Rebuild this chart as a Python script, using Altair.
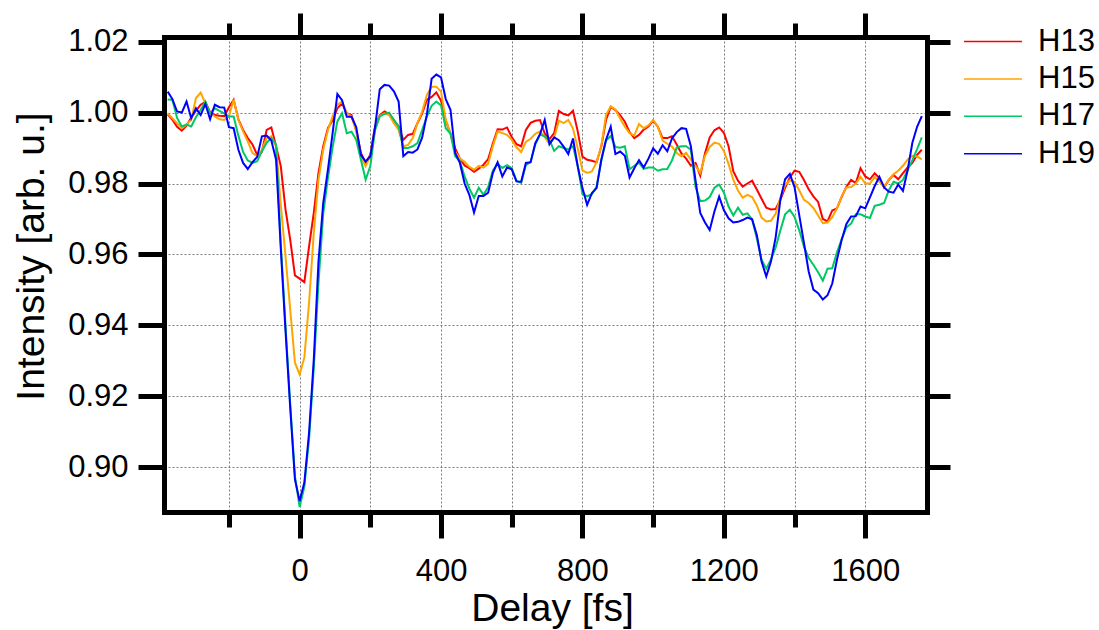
import altair as alt
import pandas as pd

# ---------------- data ----------------
DELAY_FS = [
    -373.3, -360.0, -346.7, -333.3, -320.0, -306.7, -293.3, -280.0, -266.7, -253.3,
    -240.0, -226.7, -213.3, -200.0, -186.7, -173.3, -160.0, -146.7, -133.3, -120.0,
    -106.7, -93.3, -80.0, -66.7, -53.3, -40.0, -26.7, -13.3, 0.0, 13.3,
    26.7, 40.0, 53.3, 66.7, 80.0, 93.3, 106.7, 120.0, 133.3, 146.7,
    160.0, 173.3, 186.7, 200.0, 213.3, 226.7, 240.0, 253.3, 266.7, 280.0,
    293.3, 306.7, 320.0, 333.3, 346.7, 360.0, 373.3, 386.7, 400.0, 413.3,
    426.7, 440.0, 453.3, 466.7, 480.0, 493.3, 506.7, 520.0, 533.3, 546.7,
    560.0, 573.3, 586.7, 600.0, 613.3, 626.7, 640.0, 653.3, 666.7, 680.0,
    693.3, 706.7, 720.0, 733.3, 746.7, 760.0, 773.3, 786.7, 800.0, 813.3,
    826.7, 840.0, 853.3, 866.7, 880.0, 893.3, 906.7, 920.0, 933.3, 946.7,
    960.0, 973.3, 986.7, 1000.0, 1013.3, 1026.7, 1040.0, 1053.3, 1066.7, 1080.0,
    1093.3, 1106.7, 1120.0, 1133.3, 1146.7, 1160.0, 1173.3, 1186.7, 1200.0, 1213.3,
    1226.7, 1240.0, 1253.3, 1266.7, 1280.0, 1293.3, 1306.7, 1320.0, 1333.3, 1346.7,
    1360.0, 1373.3, 1386.7, 1400.0, 1413.3, 1426.7, 1440.0, 1453.3, 1466.7, 1480.0,
    1493.3, 1506.7, 1520.0, 1533.3, 1546.7, 1560.0, 1573.3, 1586.7, 1600.0, 1613.3,
    1626.7, 1640.0, 1653.3, 1666.7, 1680.0, 1693.3, 1706.7, 1720.0, 1733.3, 1746.7,
    1760.0,
]

H13 = [
    0.9995, 0.9980, 0.9960, 0.9949, 0.9963, 0.9986, 1.0005, 1.0022, 1.0030, 1.0001,
    0.9993, 0.9991, 0.9990, 1.0015, 1.0036, 0.9981, 0.9951, 0.9928, 0.9910, 0.9880,
    0.9890, 0.9951, 0.9958, 0.9905, 0.9849, 0.9727, 0.9642, 0.9541, 0.9532, 0.9522,
    0.9623, 0.9717, 0.9830, 0.9905, 0.9956, 0.9979, 1.0012, 1.0026, 0.9998, 0.9993,
    0.9951, 0.9886, 0.9858, 0.9881, 0.9961, 0.9993, 1.0003, 0.9996, 0.9979, 0.9961,
    0.9923, 0.9937, 0.9940, 0.9970, 0.9998, 1.0036, 1.0044, 1.0057, 1.0033, 0.9977,
    0.9941, 0.9899, 0.9870, 0.9851, 0.9843, 0.9833, 0.9842, 0.9853, 0.9869, 0.9913,
    0.9953, 0.9952, 0.9958, 0.9931, 0.9911, 0.9905, 0.9951, 0.9971, 0.9977, 0.9979,
    0.9941, 0.9925, 0.9942, 1.0005, 0.9996, 0.9992, 1.0005, 0.9947, 0.9876, 0.9867,
    0.9864, 0.9860, 0.9904, 0.9979, 1.0016, 1.0007, 0.9993, 0.9974, 0.9945, 0.9928,
    0.9937, 0.9952, 0.9961, 0.9977, 0.9960, 0.9928, 0.9928, 0.9933, 0.9910, 0.9885,
    0.9870, 0.9850, 0.9858, 0.9822, 0.9885, 0.9930, 0.9950, 0.9958, 0.9943, 0.9905,
    0.9835, 0.9808, 0.9791, 0.9800, 0.9808, 0.9783, 0.9757, 0.9732, 0.9727, 0.9728,
    0.9755, 0.9788, 0.9817, 0.9836, 0.9833, 0.9810, 0.9784, 0.9764, 0.9748, 0.9700,
    0.9693, 0.9724, 0.9730, 0.9762, 0.9791, 0.9810, 0.9801, 0.9843, 0.9820, 0.9812,
    0.9829, 0.9815, 0.9789, 0.9810, 0.9824, 0.9812, 0.9829, 0.9845, 0.9858, 0.9881,
    0.9895,
]

H15 = [
    0.9998, 0.9984, 0.9970, 0.9956, 0.9966, 0.9979, 1.0041, 1.0056, 1.0026, 0.9998,
    0.9989, 0.9981, 0.9979, 0.9989, 1.0037, 0.9979, 0.9947, 0.9919, 0.9886, 0.9877,
    0.9895, 0.9928, 0.9933, 0.9905, 0.9740, 0.9595, 0.9445, 0.9295, 0.9262, 0.9309,
    0.9464, 0.9661, 0.9811, 0.9895, 0.9951, 0.9989, 1.0022, 1.0031, 0.9998, 0.9989,
    0.9947, 0.9877, 0.9849, 0.9877, 0.9951, 0.9991, 0.9998, 0.9993, 0.9970, 0.9951,
    0.9905, 0.9909, 0.9928, 0.9970, 1.0003, 1.0050, 1.0073, 1.0073, 1.0059, 0.9979,
    0.9941, 0.9889, 0.9870, 0.9861, 0.9847, 0.9839, 0.9850, 0.9845, 0.9856, 0.9906,
    0.9947, 0.9942, 0.9937, 0.9923, 0.9902, 0.9889, 0.9917, 0.9926, 0.9940, 0.9947,
    0.9931, 0.9911, 0.9929, 0.9977, 0.9970, 0.9979, 0.9955, 0.9899, 0.9837, 0.9830,
    0.9834, 0.9860, 0.9905, 0.9993, 1.0018, 1.0008, 0.9983, 0.9960, 0.9942, 0.9935,
    0.9968, 0.9956, 0.9964, 0.9979, 0.9960, 0.9921, 0.9912, 0.9904, 0.9886, 0.9877,
    0.9886, 0.9867, 0.9849, 0.9830, 0.9878, 0.9903, 0.9915, 0.9912, 0.9892, 0.9855,
    0.9811, 0.9780, 0.9760, 0.9768, 0.9762, 0.9738, 0.9704, 0.9693, 0.9695, 0.9715,
    0.9760, 0.9796, 0.9809, 0.9805, 0.9781, 0.9754, 0.9745, 0.9731, 0.9710, 0.9688,
    0.9690, 0.9705, 0.9730, 0.9763, 0.9789, 0.9790, 0.9800, 0.9819, 0.9800, 0.9800,
    0.9818, 0.9805, 0.9791, 0.9810, 0.9826, 0.9836, 0.9850, 0.9868, 0.9878, 0.9876,
    0.9868,
]

H17 = [
    1.0037, 1.0036, 0.9985, 0.9961, 0.9966, 0.9961, 0.9987, 1.0007, 1.0031, 0.9998,
    1.0012, 1.0005, 0.9998, 0.9989, 0.9989, 0.9935, 0.9889, 0.9865, 0.9858, 0.9863,
    0.9891, 0.9915, 0.9928, 0.9910, 0.9630, 0.9400, 0.9180, 0.8975, 0.8888, 0.8945,
    0.9080, 0.9280, 0.9520, 0.9715, 0.9815, 0.9902, 0.9975, 0.9998, 0.9942, 0.9946,
    0.9923, 0.9867, 0.9811, 0.9849, 0.9951, 0.9989, 0.9996, 1.0000, 0.9979, 0.9961,
    0.9900, 0.9900, 0.9905, 0.9914, 0.9951, 0.9989, 1.0019, 1.0031, 1.0020, 0.9956,
    0.9941, 0.9877, 0.9863, 0.9820, 0.9786, 0.9760, 0.9788, 0.9768, 0.9790, 0.9837,
    0.9856, 0.9844, 0.9852, 0.9843, 0.9808, 0.9802, 0.9852, 0.9860, 0.9910, 0.9938,
    0.9933, 0.9923, 0.9892, 0.9905, 0.9900, 0.9896, 0.9905, 0.9850, 0.9770, 0.9764,
    0.9770, 0.9791, 0.9864, 0.9921, 0.9934, 0.9903, 0.9901, 0.9905, 0.9840, 0.9850,
    0.9859, 0.9841, 0.9845, 0.9845, 0.9836, 0.9840, 0.9841, 0.9865, 0.9901, 0.9905,
    0.9905, 0.9895, 0.9790, 0.9750, 0.9752, 0.9762, 0.9788, 0.9797, 0.9775, 0.9735,
    0.9710, 0.9732, 0.9712, 0.9716, 0.9699, 0.9645, 0.9585, 0.9560, 0.9586, 0.9620,
    0.9668, 0.9713, 0.9726, 0.9706, 0.9668, 0.9622, 0.9590, 0.9571, 0.9550, 0.9526,
    0.9560, 0.9561, 0.9606, 0.9643, 0.9676, 0.9687, 0.9713, 0.9713, 0.9707, 0.9703,
    0.9737, 0.9740, 0.9745, 0.9781, 0.9805, 0.9800, 0.9810, 0.9838, 0.9866, 0.9897,
    0.9930,
]

H19 = [
    1.0059, 1.0038, 1.0003, 1.0000, 1.0031, 0.9984, 1.0012, 0.9993, 1.0024, 0.9981,
    1.0022, 1.0015, 1.0014, 0.9959, 0.9956, 0.9895, 0.9858, 0.9841, 0.9860, 0.9875,
    0.9933, 0.9935, 0.9921, 0.9867, 0.9616, 0.9385, 0.9169, 0.8966, 0.8905, 0.8957,
    0.9098, 0.9304, 0.9580, 0.9745, 0.9839, 0.9942, 1.0052, 1.0035, 0.9988, 0.9988,
    0.9959, 0.9881, 0.9862, 0.9877, 0.9958, 1.0066, 1.0078, 1.0076, 1.0060, 1.0031,
    0.9877, 0.9889, 0.9887, 0.9896, 0.9930, 0.9995, 1.0095, 1.0107, 1.0099, 1.0038,
    1.0008, 0.9886, 0.9858, 0.9800, 0.9768, 0.9718, 0.9765, 0.9765, 0.9774, 0.9830,
    0.9860, 0.9820, 0.9845, 0.9840, 0.9806, 0.9805, 0.9858, 0.9860, 0.9914, 0.9939,
    0.9979, 0.9911, 0.9930, 0.9922, 0.9904, 0.9883, 0.9927, 0.9848, 0.9787, 0.9740,
    0.9773, 0.9787, 0.9867, 0.9923, 0.9960, 0.9883, 0.9890, 0.9878, 0.9817, 0.9843,
    0.9866, 0.9845, 0.9870, 0.9899, 0.9884, 0.9908, 0.9891, 0.9927, 0.9945, 0.9956,
    0.9954, 0.9905, 0.9808, 0.9717, 0.9690, 0.9669, 0.9721, 0.9763, 0.9725, 0.9702,
    0.9690, 0.9692, 0.9697, 0.9704, 0.9699, 0.9655, 0.9580, 0.9538, 0.9580, 0.9649,
    0.9755, 0.9812, 0.9827, 0.9790, 0.9711, 0.9632, 0.9552, 0.9501, 0.9491, 0.9473,
    0.9485, 0.9518, 0.9585, 0.9641, 0.9686, 0.9707, 0.9708, 0.9735, 0.9730, 0.9761,
    0.9793, 0.9819, 0.9789, 0.9777, 0.9774, 0.9797, 0.9779, 0.9838, 0.9915, 0.9960,
    0.9990,
]

SERIES = ["H13", "H15", "H17", "H19"]
COLORS = ["#ff0000", "#ffa500", "#00c864", "#0000ff"]

X_MAJOR = [0, 400, 800, 1200, 1600]
X_MINOR = [-200, 200, 600, 1000, 1400]
X_GRID = [-200, 0, 200, 400, 600, 800, 1000, 1200, 1400, 1600]
Y_TICKS = [0.90, 0.92, 0.94, 0.96, 0.98, 1.00, 1.02]
Y_GRID = [0.90, 0.92, 0.94, 0.96, 0.98, 1.00]

X_DOMAIN = [-383.7, 1774.7]
Y_DOMAIN = [0.8874, 1.0213]

for s in (H13, H15, H17, H19):
    assert len(s) == len(DELAY_FS), (len(s), len(DELAY_FS))

frames = []
for name, vals in zip(SERIES, [H13, H15, H17, H19]):
    frames.append(pd.DataFrame({"delay": DELAY_FS, "intensity": vals, "harmonic": name}))
df = pd.concat(frames, ignore_index=True)

# ---------------- styling ----------------
FONT = "Liberation Sans"
LABEL_SIZE = 31
TITLE_SIZE = 39
x_scale = alt.Scale(domain=X_DOMAIN, nice=False, zero=False)
y_scale = alt.Scale(domain=Y_DOMAIN, nice=False, zero=False)

frame_axis = dict(tickColor="black", tickWidth=5, domainColor="black",
                  domainWidth=5, domainCap="square", grid=False, zindex=1)
grid_axis = dict(grid=True, gridColor="#7a7a7a", gridDash=[2, 2], gridWidth=1,
                 domain=False, ticks=False, labels=False, title=None, zindex=0)

base = alt.Chart(df)

grid_layer = base.mark_line(strokeOpacity=0).encode(
    x=alt.X("delay:Q", scale=x_scale,
            axis=alt.Axis(orient="bottom", values=X_GRID, **grid_axis)),
    y=alt.Y("intensity:Q", scale=y_scale,
            axis=alt.Axis(orient="left", values=Y_GRID, **grid_axis)),
    detail="harmonic:N",
)

lines = base.mark_line(strokeWidth=2).encode(
    x=alt.X("delay:Q", scale=x_scale,
            axis=alt.Axis(orient="bottom", values=X_MAJOR, format="d", tickSize=26,
                          labelFont=FONT, labelFontSize=LABEL_SIZE, labelColor="black",
                          labelPadding=18, labelFlush=False, labelOverlap=False,
                          title="Delay [fs]", titleFont=FONT, titleFontSize=TITLE_SIZE,
                          titleFontWeight="normal", titleColor="black",
                          titleX=388, titleY=77, titleBaseline="top",
                          titleAlign="center", **frame_axis)),
    y=alt.Y("intensity:Q", scale=y_scale,
            axis=alt.Axis(orient="left", values=Y_TICKS, format=".2f", tickSize=26,
                          labelFont=FONT, labelFontSize=LABEL_SIZE, labelColor="black",
                          labelPadding=10, labelFlush=False, labelOverlap=False,
                          title="Intensity [arb. u.]", titleFont=FONT,
                          titleFontSize=TITLE_SIZE, titleFontWeight="normal",
                          titleColor="black", titleX=-121, titleY=219,
                          titleBaseline="alphabetic", titleAlign="center",
                          **frame_axis)),
    color=alt.Color("harmonic:N",
                    scale=alt.Scale(domain=SERIES, range=COLORS),
                    legend=alt.Legend(orient="none", legendX=799, legendY=-10.5,
                                      title=None, symbolType="stroke",
                                      symbolSize=3364, symbolStrokeWidth=1.5,
                                      labelFont=FONT, labelFontSize=LABEL_SIZE,
                                      labelColor="black", labelOffset=15,
                                      clipHeight=30, rowPadding=6.4, padding=0)),
)

bottom_minor_right = base.mark_line(strokeOpacity=0).encode(
    x=alt.X("delay:Q", scale=x_scale,
            axis=alt.Axis(orient="bottom", values=X_MINOR, tickSize=15,
                          domain=False, labels=False, title=None,
                          tickColor="black", tickWidth=5, grid=False, zindex=1)),
    y=alt.Y("intensity:Q", scale=y_scale,
            axis=alt.Axis(orient="right", values=Y_TICKS, tickSize=23,
                          labels=False, title=None, **frame_axis)),
    detail="harmonic:N",
)

top_major = base.mark_line(strokeOpacity=0).encode(
    x=alt.X("delay:Q", scale=x_scale,
            axis=alt.Axis(orient="top", values=X_MAJOR, tickSize=24,
                          labels=False, title=None, **frame_axis)),
    y=alt.Y("intensity:Q", scale=y_scale, axis=None),
    detail="harmonic:N",
)

top_minor = base.mark_line(strokeOpacity=0).encode(
    x=alt.X("delay:Q", scale=x_scale,
            axis=alt.Axis(orient="top", values=X_MINOR, tickSize=14,
                          domain=False, labels=False, title=None,
                          tickColor="black", tickWidth=5, grid=False, zindex=1)),
    y=alt.Y("intensity:Q", scale=y_scale, axis=None),
    detail="harmonic:N",
)

chart = (
    alt.layer(grid_layer, lines, bottom_minor_right, top_major, top_minor)
    .resolve_scale(x="shared", y="shared")
    .resolve_axis(x="independent", y="independent")
    .properties(
        width=763,
        height=475,
        autosize=alt.AutoSizeParams(type="none"),
        padding={"left": 164, "top": 37, "right": 172, "bottom": 118},
        background="white",
    )
    .configure_view(stroke="transparent")
)

chart.save("out.html", embed_options={"renderer": "svg", "actions": False})
